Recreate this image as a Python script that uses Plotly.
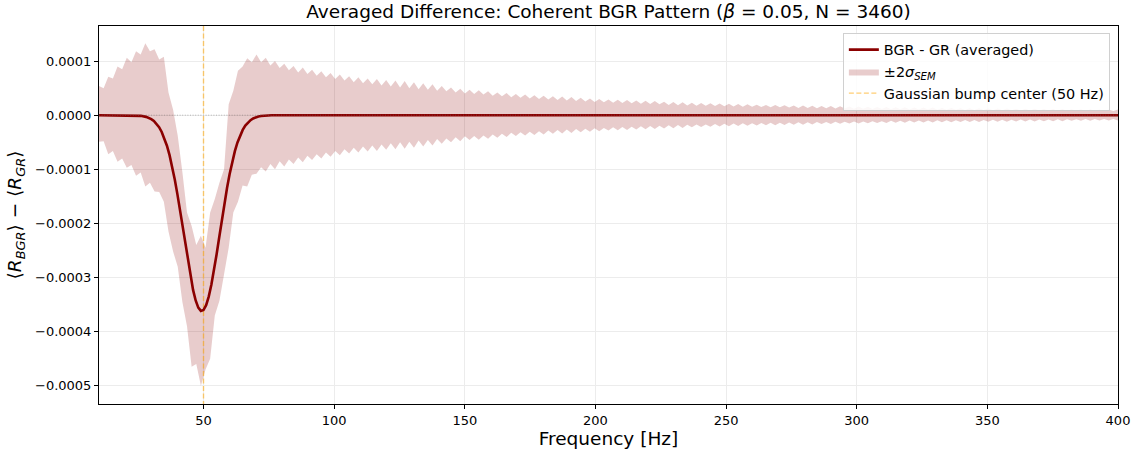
import numpy as np
import plotly.graph_objects as go

# ---------------- data (values in units of 1e-6) ----------------
mean_freq = [10, 20, 24, 26] + list(range(28, 73)) + [74, 76, 80, 400]
mean_vals = [0, 0, -0.4, -1.2,
             -3.1, -4.8, -7.2, -10.7, -15.6, -22.2, -31.0, -42.3, -56.5, -73.9,
             -94.7, -118.8, -145.9, -175.6, -206.8, -238.6, -269.5, -298.1, -322.9, -342.4,
             -355.6, -361.7, -360.1, -351.2, -335.3, -313.5, -287.0, -257.3, -225.9, -194.2,
             -163.4, -134.7, -108.7, -85.9, -66.5, -50.4, -37.4, -27.2, -19.3, -13.5,
             -9.2, -6.1, -4.0, -2.6, -1.6,
             -0.6, -0.2, 0, 0]

band_freq = np.linspace(10, 400, 221)

band_upper = [
    54, 50, 71, 68, 90, 85, 106, 98, 118, 112, 133, 118, 122,
    103, 108, 42, 10, -38, -105, -180, -205, -240, -223, -245, -180, -155, -125, -100, 20, 45, 82, 90, 105,
    98, 112, 98, 106, 92, 100, 87, 95, 83, 91, 79, 88, 76, 84, 73, 81, 70, 78,
    67, 75, 64, 72, 61, 70, 59, 68, 57, 67, 55, 65, 53, 64, 51, 63, 50, 61,
    48, 59, 47, 57, 45, 54, 44, 51, 42, 49, 40, 47, 39, 46, 38, 44, 36, 42,
    35, 41, 33, 39, 32, 38, 31, 37, 30, 36, 29, 35, 28, 34.5, 27, 33.5, 26, 32,
    25.5, 31, 24.5, 30, 24, 29, 23, 28.5, 22.5, 28, 22, 27, 21, 26.5, 20.5, 26,
    20, 25, 19, 24.5, 18.5, 24, 18, 23, 17.5, 22.5, 17.5, 22, 17, 21.5, 16.5, 21,
    16, 20.5, 15.5, 20, 15.5, 19.5, 15, 19, 14.5, 19, 14.5, 18.5, 14, 18, 13.5, 18,
    13.5, 17.5, 13, 17, 13, 17, 12.5, 16.5, 12.5, 16, 12, 16, 12, 15.5, 11.5, 15,
    11.5, 15, 11, 14.5, 11, 14.5, 10.5, 14, 10.5, 14, 10.5, 14, 10, 13.5, 10, 13.5,
    10, 13, 9.5, 13, 9.5, 13, 9.5, 12.5, 9, 12.5, 9, 12.5, 9, 12, 8.5, 12,
    8.5, 12, 8.5, 11.5, 8.5, 11.5, 8, 11.5, 8, 11, 8, 11, 7.5, 11, 7.5, 10.5,
    7.5, 10.5, 7.5, 10.5,
]

band_lower = [
    -49, -48, -72, -66, -86, -80, -97, -92, -112, -106, -132, -125, -141,
    -142, -160, -215, -252, -280, -345, -390, -465, -460, -500, -470, -450, -370, -343, -290, -245, -180, -160, -130, -132,
    -110, -108, -96, -104, -90, -100, -85, -95, -82, -90, -78, -87, -75, -83, -72, -80, -69, -77,
    -66, -74, -63, -71, -60, -69, -58, -67, -56, -66, -54, -64, -52, -63, -50, -62, -49, -60,
    -47, -58, -46, -56, -44, -53, -43, -50, -41, -48, -39, -46, -38.5, -45.5, -37.5, -43.5, -35.5, -41.5,
    -34.5, -40.5, -32.5, -38.5, -31.5, -37.5, -30.5, -36.5, -29.5, -35.5, -28.5, -34.5, -27.5, -34, -26.5, -33, -25.5, -31.5,
    -25, -30.5, -24, -29.5, -23.5, -28.5, -22.5, -28, -22, -27.5, -21.5, -26.5, -20.5, -26, -20, -25.5,
    -19.5, -24.5, -18.5, -24, -18, -23.5, -17.5, -22.5, -17, -22, -17, -21.5, -16.5, -21, -16, -20.5,
    -15.5, -20, -15, -19.5, -15, -19, -14.5, -18.5, -14, -18.5, -14, -18, -13.5, -17.5, -13, -17.5,
    -13, -17, -12.5, -16.5, -12.5, -16.5, -12, -16, -12, -15.5, -11.5, -15.5, -11.5, -15, -11, -14.5,
    -11, -14.5, -10.5, -14, -10.5, -14, -10, -13.5, -10, -13.5, -10, -13.5, -9.5, -13, -9.5, -13,
    -9.5, -12.5, -9, -12.5, -9, -12.5, -9, -12, -8.5, -12, -8.5, -12, -8.5, -11.5, -8, -11.5,
    -8, -11.5, -8, -11, -8, -11, -7.5, -11, -7.5, -10.5, -7.5, -10.5, -7, -10.5, -7, -10,
    -7, -10, -7, -10,
]

bump_center = 50
y_range = [-0.0005337, 0.0001648]
x_range = [10, 400]
x_ticks = [50, 100, 150, 200, 250, 300, 350, 400]
y_ticks = [-0.0005, -0.0004, -0.0003, -0.0002, -0.0001, 0.0, 0.0001]

SCALE = 1e-6
FONT = "DejaVu Sans"

fig = go.Figure()

# band (lower edge, then upper edge filled down to it)
fig.add_trace(go.Scatter(
    x=band_freq, y=[v * SCALE for v in band_lower], mode="lines",
    line=dict(width=0, color="rgba(139,0,0,0)"), showlegend=False, hoverinfo="skip"))
fig.add_trace(go.Scatter(
    x=band_freq, y=[v * SCALE for v in band_upper], mode="lines",
    line=dict(width=0, color="rgba(139,0,0,0)"), fill="tonexty",
    fillcolor="rgba(139,0,0,0.2)", name="±2<i>σ</i><sub><i>SEM</i></sub>",
    legendrank=2))

# zero reference line
fig.add_shape(type="line", xref="paper", x0=0, x1=1, yref="y", y0=0, y1=0,
              line=dict(color="rgba(110,110,110,0.6)", width=0.8, dash="1px,1.6px"), layer="above")

fig.add_trace(go.Scatter(
    x=[bump_center, bump_center], y=[y_range[0] * 1.5, y_range[1] * 1.5], mode="lines",
    line=dict(color="rgba(255,165,0,0.55)", width=1.4, dash="5px,2.5px"),
    name="Gaussian bump center (50 Hz)", legendrank=3))

fig.add_trace(go.Scatter(
    x=mean_freq, y=[v * SCALE for v in mean_vals], mode="lines",
    line=dict(color="#8b0000", width=2.6), name="BGR - GR (averaged)", legendrank=1))

axis_common = dict(
    showgrid=True, gridcolor="#ececec", gridwidth=0.8,
    ticks="outside", ticklen=4, tickwidth=1, tickcolor="black",
    showline=True, linecolor="black", linewidth=1, mirror=True,
    zeroline=False, tickfont=dict(family=FONT, size=13, color="black"),
)

fig.update_layout(
    width=1142, height=457, autosize=False,
    margin=dict(l=99, r=23, t=26, b=50),
    paper_bgcolor="white", plot_bgcolor="white",
    font=dict(family=FONT, color="black"),
    title=dict(text="Averaged Difference: Coherent BGR Pattern (<i>β</i> = 0.05, N = 3460)",
               x=0.5, xref="paper", xanchor="center", y=1 - 12 / 457, yref="container",
               yanchor="middle", font=dict(family=FONT, size=18.5, color="black")),
    xaxis=dict(range=x_range, tickvals=x_ticks, **axis_common,
               title=dict(text="Frequency [Hz]", font=dict(family=FONT, size=18.5), standoff=4)),
    yaxis=dict(range=y_range, tickvals=y_ticks, tickformat=".4f", **axis_common,
               title=dict(text="⟨<i>R</i><sub><i>BGR</i></sub>⟩ − ⟨<i>R</i><sub><i>GR</i></sub>⟩",
                          font=dict(family=FONT, size=18.5), standoff=8)),
    legend=dict(x=0.992, xanchor="right", y=0.982, yanchor="top", traceorder="normal",
                bgcolor="rgba(255,255,255,0.85)", bordercolor="#d0d0d0", borderwidth=1,
                font=dict(family=FONT, size=14.4, color="black"), tracegroupgap=0,
                itemwidth=30),
    showlegend=True,
)

fig.write_html("out.html")
